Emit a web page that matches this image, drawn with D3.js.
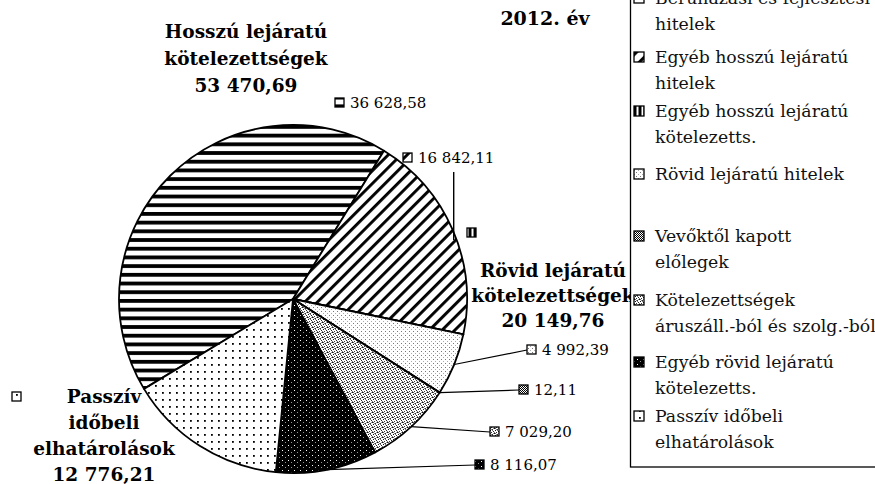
<!DOCTYPE html>
<html>
<head>
<meta charset="utf-8">
<style>
body, html {
	width: 100%;
	height: 100%;
	margin: 0;
	background: #fff;
}
svg { display: block; }
</style>
</head>
<body>
<div id="chartContainer"></div>

<script src="https://cdn.jsdelivr.net/npm/d3@7/dist/d3.min.js"></script>
<script>

// ---- data ----
const categories = [
	"Beruházási és fejlesztési hitelek",
	"Egyéb hosszú lejáratú hitelek",
	"Egyéb hosszú lejáratú kötelezetts.",
	"Rövid lejáratú hitelek",
	"Vevőktől kapott előlegek",
	"Kötelezettségek áruszáll.-ból és szolg.-ból",
	"Egyéb rövid lejáratú kötelezetts.",
	"Passzív időbeli elhatárolások"
];
const legendLines = [
	["Beruházási és fejlesztési", "hitelek"],
	["Egyéb hosszú lejáratú", "hitelek"],
	["Egyéb hosszú lejáratú", "kötelezetts."],
	["Rövid lejáratú hitelek"],
	["Vevőktől kapott", "előlegek"],
	["Kötelezettségek", "áruszáll.-ból és szolg.-ból"],
	["Egyéb rövid lejáratú", "kötelezetts."],
	["Passzív időbeli", "elhatárolások"]
];
const values = [36628.58, 16842.11, 0, 4992.39, 12.11, 7029.20, 8116.07, 12776.21];
const groupNames = [
	["Hosszú lejáratú", "kötelezettségek"],
	["Rövid lejáratú", "kötelezettségek"],
	["Passzív", "időbeli", "elhatárolások"]
];
const groupTotals = [53470.69, 20149.76, 12776.21];
const chartTitle = "2012. év";

// ---- layout ----
const WIDTH = 875, HEIGHT = 484;
const CX = 293, CY = 299, RADIUS = 174;
const START_ANGLE = -121.1 * Math.PI / 180;
const SERIF = "'DejaVu Serif', 'Liberation Serif', serif";

const PATTERNS = ["p-horiz", "p-diag", "p-vert", "p-light", "p-check", "p-gray", "p-dark", "p-dots"];

// value label spots: marker left x, text baseline y, leader (none / straight / vertical)
const valueLabelPos = [
	{x: 335, y: 108, leader: null},
	{x: 403, y: 163, leader: "up", leaderTop: 172},
	{x: 467, y: 238, leader: null, noText: true},
	{x: 527, y: 355, leader: "line"},
	{x: 519, y: 395, leader: "line"},
	{x: 490, y: 437, leader: "line"},
	{x: 475, y: 470, leader: "line"},
	{x: 12, y: 402, leader: null, noText: true}
];
const groupLabelPos = [
	{x: 246, y: 38, step: 27},
	{x: 553, y: 277, step: 25},
	{x: 104, y: 403, step: 26}
];
const legendY = [4, 63, 117, 180, 242, 306, 368, 422];

var hu = d3.formatLocale({decimal: ",", thousands: " ", grouping: [3], currency: ["", ""]});
var fmt = hu.format(",.2f");

var svg = d3.select("#chartContainer").append("svg")
	.attr("width", WIDTH)
	.attr("height", HEIGHT);

// ---- fill patterns (scanned b/w print look) ----
var defs = svg.append("defs");
function pattern(id, w, h, bg, transform) {
	var p = defs.append("pattern")
		.attr("id", id)
		.attr("patternUnits", "userSpaceOnUse")
		.attr("width", w)
		.attr("height", h);
	if (transform) p.attr("patternTransform", transform);
	p.append("rect").attr("width", w).attr("height", h).attr("fill", bg);
	return p;
}
function dot(p, x, y, s, c) {
	p.append("rect").attr("x", x).attr("y", y).attr("width", s).attr("height", s).attr("fill", c);
}

pattern("p-horiz", 8, 8.7, "#fff").append("rect").attr("width", 8).attr("height", 3.8).attr("fill", "#000");
pattern("p-diag", 8, 9, "#fff", "rotate(-45)").append("rect").attr("width", 8).attr("height", 2.9).attr("fill", "#000");
pattern("p-vert", 5, 4, "#000").append("rect").attr("x", 1.5).attr("width", 2).attr("height", 4).attr("fill", "#fff");
var pl = pattern("p-light", 4, 4, "#fff");
dot(pl, 0, 0, 1, "#777");
dot(pl, 2, 2, 1, "#aaa");
var pc = pattern("p-check", 2, 2, "#fff");
dot(pc, 0, 0, 1, "#000");
dot(pc, 1, 1, 1, "#000");
// scattered dots so the grey does not read as stripes
var pg = pattern("p-gray", 5, 5, "#fff");
[[0, 0, "#111"], [3, 1, "#222"], [1, 2, "#333"], [4, 3, "#111"], [2, 4, "#333"], [0, 3, "#666"], [2, 0, "#777"], [4, 2, "#777"], [1, 4, "#888"], [3, 3, "#999"]]
	.forEach(function(q) { dot(pg, q[0], q[1], 1, q[2]); });
var pd = pattern("p-dark", 6, 5, "#000");
dot(pd, 1, 1, 1, "#fff");
dot(pd, 4, 3, 1, "#999");

var pp = pattern("p-dots", 7, 7, "#fff");
dot(pp, 2, 2, 1.8, "#000");

// ---- pie ----
var slices = values.map(function(v, i) { return {name: categories[i], value: v, index: i}; });

var pie = d3.pie()
	.sort(null)
	.value(function(d) { return d.value; })
	.startAngle(START_ANGLE)
	.endAngle(START_ANGLE + 2 * Math.PI);

var arcs = pie(slices);
var arc = d3.arc().innerRadius(0).outerRadius(RADIUS);

var chart = svg.append("g").attr("transform", `translate(${CX},${CY})`);

chart.selectAll("path.slice")
	.data(arcs)
	.enter().append("path")
		.attr("class", "slice")
		.attr("d", arc)
		.attr("fill", function(d) { return "url(#" + PATTERNS[d.index] + ")"; })
		.attr("stroke", "#000")
		.attr("stroke-width", 1.8)
		.attr("stroke-linejoin", "round");

function edgePoint(d) {
	var a = (d.startAngle + d.endAngle) / 2;
	return [CX + RADIUS * Math.sin(a), CY - RADIUS * Math.cos(a)];
}

// ---- value labels with leaders ----
var labels = svg.append("g").attr("class", "value-labels");

arcs.forEach(function(d, i) {
	var pos = valueLabelPos[i];
	var p = edgePoint(d);
	if (pos.leader === "line") {
		labels.append("line")
			.attr("x1", p[0]).attr("y1", p[1])
			.attr("x2", pos.x).attr("y2", pos.y - 5)
			.attr("stroke", "#000").attr("stroke-width", 1.2);
	} else if (pos.leader === "up") {
		labels.append("line")
			.attr("x1", p[0] + 1).attr("y1", p[1] + 10)
			.attr("x2", p[0] + 1).attr("y2", pos.leaderTop)
			.attr("stroke", "#000").attr("stroke-width", 1.4);
	}
	labels.append("rect")
		.attr("x", pos.x).attr("y", pos.y - 10)
		.attr("width", 9).attr("height", 9)
		.attr("fill", "url(#" + PATTERNS[i] + ")")
		.attr("stroke", "#000").attr("stroke-width", 1.3);
	if (!pos.noText) {
		labels.append("text")
			.attr("x", pos.x + 15).attr("y", pos.y)
			.attr("font-family", SERIF)
			.attr("font-size", "15px")
			.attr("fill", "#000")
			.text(fmt(d.value));
	}
});

// ---- group labels (bold) ----
groupNames.forEach(function(lines, g) {
	var pos = groupLabelPos[g];
	var t = svg.append("text")
		.attr("font-family", SERIF)
		.attr("font-weight", "bold")
		.attr("font-size", "18.5px")
		.attr("text-anchor", "middle")
		.attr("fill", "#000");
	lines.concat([fmt(groupTotals[g])]).forEach(function(s, k) {
		t.append("tspan").attr("x", pos.x).attr("y", pos.y + k * pos.step).text(s);
	});
});

svg.append("text")
	.attr("x", 545).attr("y", 25)
	.attr("text-anchor", "middle")
	.attr("font-family", SERIF)
	.attr("font-weight", "bold")
	.attr("font-size", "19px")
	.text(chartTitle);

// ---- legend ----
var legend = svg.append("g").attr("class", "legend");
legend.append("rect")
	.attr("x", 630.5).attr("y", -20)
	.attr("width", 300).attr("height", 487)
	.attr("fill", "#fff")
	.attr("stroke", "#000")
	.attr("stroke-width", 1.3);

var item = legend.selectAll("g.item")
	.data(legendLines)
	.enter().append("g")
		.attr("class", "item")
		.attr("transform", function(d, i) { return `translate(0,${legendY[i]})`; });

item.append("rect")
	.attr("x", 634).attr("y", -11)
	.attr("width", 10).attr("height", 10)
	.attr("fill", function(d, i) { return "url(#" + PATTERNS[i] + ")"; })
	.attr("stroke", "#000")
	.attr("stroke-width", 1.3);

item.append("text")
	.attr("font-family", SERIF)
	.attr("font-size", "17.3px")
	.attr("fill", "#111")
	.each(function(lines) {
		var t = d3.select(this);
		lines.forEach(function(s, k) {
			t.append("tspan").attr("x", 655).attr("y", k * 26).text(s);
		});
	});

</script>
</body>
</html>
